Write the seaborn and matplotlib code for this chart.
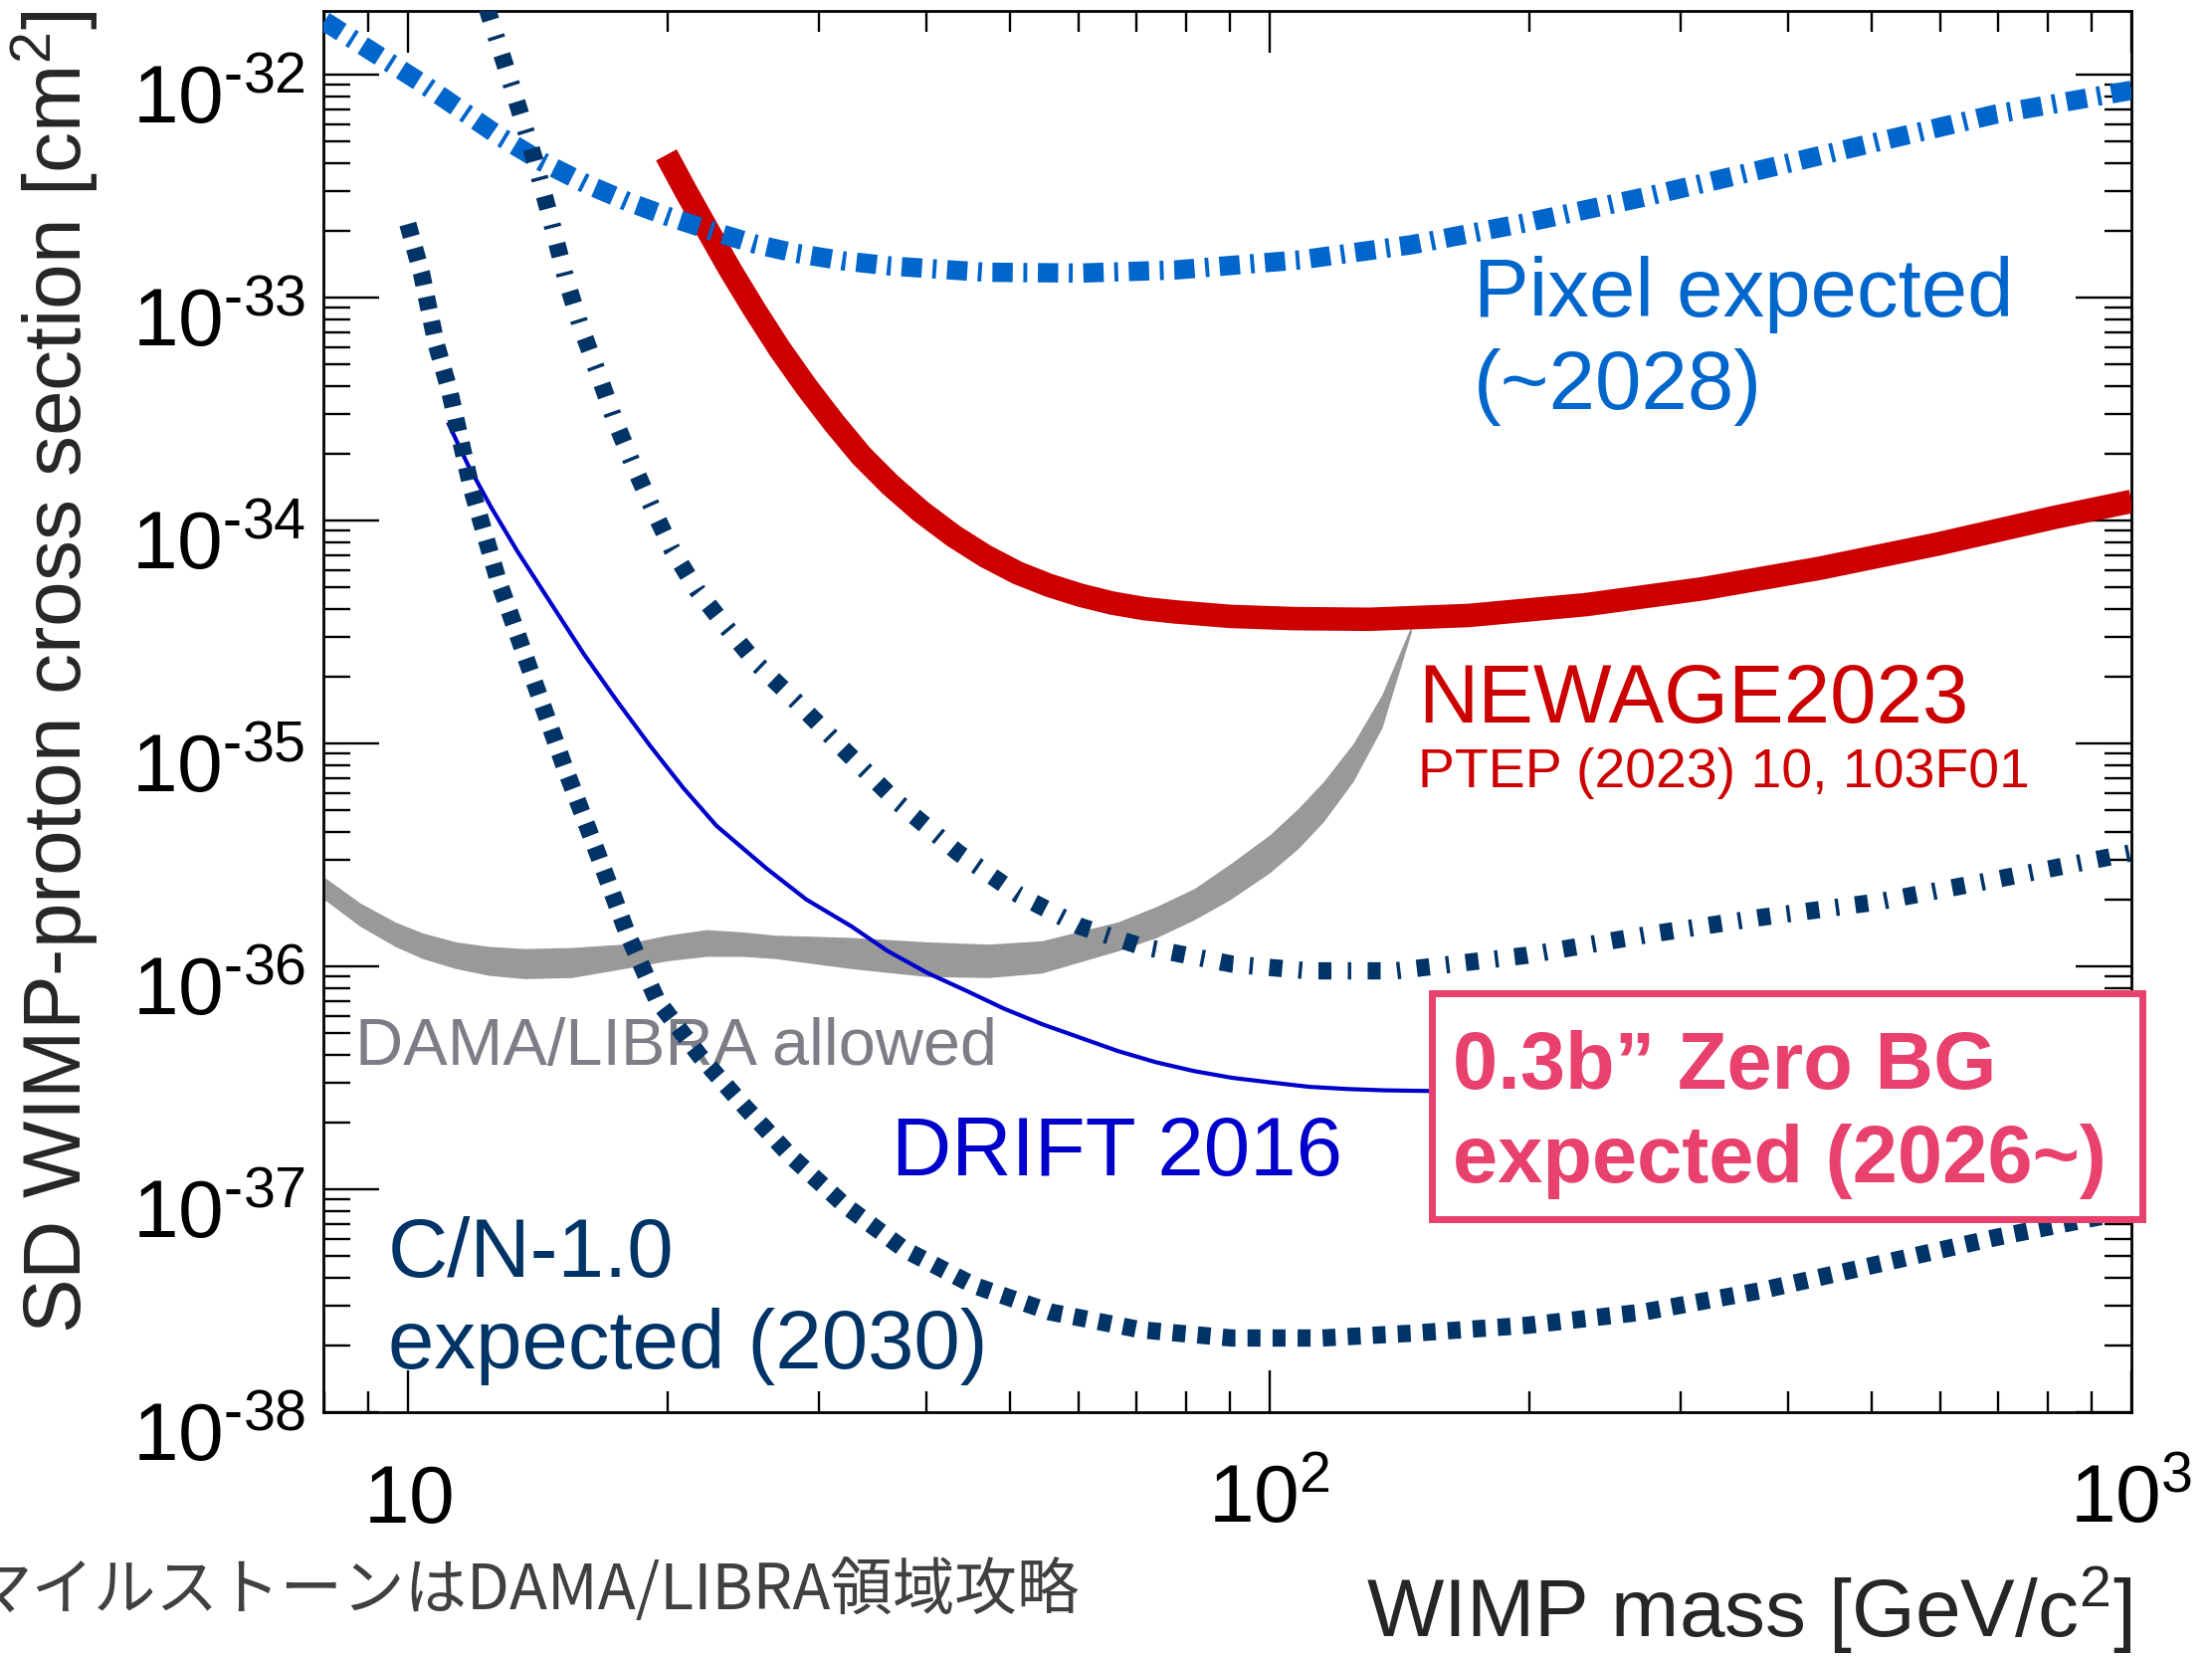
import numpy as np
import pandas as pd
import matplotlib
matplotlib.use("Agg")
import matplotlib.pyplot as plt
import matplotlib.transforms as mtransforms
from matplotlib.ticker import LogLocator, FixedLocator, NullFormatter
from matplotlib.patches import Rectangle
import seaborn as sns

# ---------------- data (WIMP mass [GeV/c^2], log10 cross section [cm^2]) ----------------
pixel_mass = [8.0, 10.4, 12.7, 14.3, 16.1, 18.0, 20.0, 22.9, 25.3, 28.1, 32.0, 36.3, 46.7, 60.3,
              77.7, 109, 146, 199, 272, 372, 509, 696, 1000]
pixel_logxs = [-31.76, -32.04, -32.27, -32.39, -32.49, -32.57, -32.635, -32.71, -32.76, -32.80,
               -32.835, -32.858, -32.886, -32.89, -32.876, -32.83, -32.763, -32.663, -32.549,
               -32.426, -32.30, -32.177, -32.07]

newage_mass = [19.95, 21.0, 22.3, 23.7, 25.3, 27.0, 29.0, 31.2, 33.6, 36.3, 39.4, 43.0, 46.8, 51.0,
               55.4, 60.3, 65.6, 71.5, 77.8, 90.0, 106.7, 130.6, 170, 233, 318, 435, 595, 814, 1000]
newage_logxs = [-32.36, -32.52, -32.70, -32.88, -33.06, -33.23, -33.40, -33.56, -33.71, -33.84,
                -33.96, -34.07, -34.16, -34.235, -34.29, -34.335, -34.37, -34.395, -34.41, -34.43,
                -34.44, -34.443, -34.426, -34.377, -34.306, -34.214, -34.106, -33.986, -33.914]

zerobg_mass = [12.35, 13.3, 14.03, 14.65, 15.24, 15.87, 16.59, 17.34, 18.21, 19.2, 20.25, 21.63,
               23.44, 25.38, 28.2, 32.1, 36.9, 43.5, 51.2, 60.2, 70.9, 90.5, 111, 140, 199, 272,
               372, 509, 696, 1000]
zerobg_logxs = [-31.70, -32.09, -32.38, -32.65, -32.91, -33.13, -33.33, -33.54, -33.74, -33.94,
                -34.13, -34.31, -34.48, -34.64, -34.81, -35.03, -35.26, -35.49, -35.68, -35.82,
                -35.91, -35.99, -36.02, -36.02, -35.95, -35.86, -35.78, -35.71, -35.61, -35.49]

cn_mass = [10.0, 10.37, 10.79, 11.18, 11.84, 12.71, 13.89, 15.18, 16.59, 17.96, 19.45, 21.8, 24.6,
           27.8, 32.1, 37.7, 45.3, 55.6, 70.8, 90.3, 115, 147, 199, 272, 372, 509, 696, 1000]
cn_logxs = [-32.67, -32.89, -33.21, -33.42, -33.85, -34.26, -34.68, -35.10, -35.49, -35.85,
            -36.15, -36.40, -36.63, -36.85, -37.07, -37.27, -37.43, -37.55, -37.63, -37.667,
            -37.667, -37.645, -37.61, -37.55, -37.454, -37.335, -37.216, -37.095]

drift_mass = [11.13, 11.74, 12.49, 13.41, 14.65, 16.01, 17.49, 19.1, 20.88, 22.82, 26.06, 29.0,
              32.7, 36.0, 40.1, 44.5, 49.2, 54.5, 60.3, 66.7, 73.8, 81.8, 90.5, 100, 111, 123,
              136, 160]
drift_logxs = [-33.56, -33.75, -33.94, -34.14, -34.37, -34.60, -34.81, -35.01, -35.20, -35.37,
               -35.56, -35.70, -35.82, -35.93, -36.03, -36.11, -36.19, -36.26, -36.32, -36.38,
               -36.43, -36.47, -36.50, -36.52, -36.54, -36.55, -36.556, -36.56]

dama_mass = [8.0, 8.8, 9.66, 10.4, 11.37, 12.4, 13.65, 15.5, 17.8, 20.0, 22.2, 24.4, 26.7, 32.7,
             40.1, 47.2, 54.4, 66.7, 74.0, 81.8, 90.0, 100, 108, 115.5, 125, 135, 146]
dama_upper = [-35.60, -35.715, -35.80, -35.85, -35.89, -35.91, -35.92, -35.915, -35.90, -35.86,
              -35.835, -35.845, -35.86, -35.87, -35.89, -35.90, -35.885, -35.80, -35.73, -35.65,
              -35.54, -35.41, -35.29, -35.17, -35.00, -34.78, -34.47]
dama_lower = [-35.70, -35.82, -35.91, -35.965, -36.01, -36.04, -36.055, -36.05, -36.01, -35.975,
              -35.955, -35.955, -35.965, -36.01, -36.046, -36.05, -36.03, -35.93, -35.87, -35.79,
              -35.70, -35.58, -35.47, -35.35, -35.17, -34.93, -34.50]

xtick_values = [10, 100, 1000]
xtick_labels = [r"$\mathregular{10}$", r"$\mathregular{10^{2}}$", r"$\mathregular{10^{3}}$"]
ytick_exponents = [-38, -37, -36, -35, -34, -33, -32]
ytick_labels = [r"$\mathregular{10^{\text{-}%d}}$" % (-e) for e in ytick_exponents]

# ---------------- style ----------------
sns.set_theme(style="ticks")
plt.rcParams["font.family"] = ["Liberation Sans", "DejaVu Sans"]
plt.rcParams["mathtext.fontset"] = "custom"
plt.rcParams["mathtext.rm"] = "Liberation Sans"
plt.rcParams["mathtext.it"] = "Liberation Sans:italic"
plt.rcParams["mathtext.bf"] = "Liberation Sans:bold"
plt.rcParams["lines.scale_dashes"] = True

fig = plt.figure(figsize=(22.23, 16.64), dpi=100)
ax = fig.add_axes([0.1462, 0.1472, 0.8174, 0.8462])
ax.set_xscale("log")
ax.set_yscale("log")
ax.set_xlim(7.98, 1000)
ax.set_ylim(1e-38, 10 ** -31.714)
ax.grid(False)


def curve(mass, logxs, color, lw, dashes=None, z=3):
    df = pd.DataFrame({"mass": mass, "xs": 10.0 ** np.asarray(logxs)})
    sns.lineplot(data=df, x="mass", y="xs", ax=ax, color=color, linewidth=lw,
                 sort=False, estimator=None, zorder=z)
    line = ax.lines[-1]
    line.set_solid_joinstyle("round")
    if dashes is not None:
        line.set_dashes(dashes)
        line.set_dash_capstyle("butt")
    else:
        line.set_solid_capstyle("butt")
    return line


# DAMA/LIBRA band
ax.fill_between(dama_mass, 10.0 ** np.asarray(dama_lower), 10.0 ** np.asarray(dama_upper),
                color="#999999", lw=0, zorder=1.5)

curve(drift_mass, drift_logxs, "#0000CC", 3.0, z=3)
curve(newage_mass, newage_logxs, "#CC0000", 17.0, z=4)
curve(pixel_mass, pixel_logxs, "#0066CC", 14.0, dashes=(1.05, 0.55, 0.2, 0.55), z=5)
curve(zerobg_mass, zerobg_logxs, "#003366", 12.5, dashes=(0.75, 0.95, 0.2, 0.95), z=6)
curve(cn_mass, cn_logxs, "#003366", 12.5, dashes=(0.75, 0.7), z=7)

ax.set_ylim(1e-38, 10 ** -31.714)
ax.set_xlim(7.98, 1000)

# ---------------- axes / ticks ----------------
for sp in ax.spines.values():
    sp.set_visible(True)
    sp.set_linewidth(2.0)
    sp.set_color("black")

ax.xaxis.set_major_locator(FixedLocator(xtick_values))
ax.set_xticklabels(xtick_labels)
ax.xaxis.set_minor_locator(LogLocator(base=10, subs=np.arange(2, 10), numticks=50))
ax.xaxis.set_minor_formatter(NullFormatter())
ax.yaxis.set_major_locator(FixedLocator([10.0 ** e for e in ytick_exponents]))
ax.set_yticklabels(ytick_labels)
ax.yaxis.set_minor_locator(LogLocator(base=10, subs=np.arange(2, 10), numticks=50))
ax.yaxis.set_minor_formatter(NullFormatter())

ax.tick_params(which="both", direction="in", top=True, right=True, width=1.7,
               color="black", labelcolor="black")
ax.tick_params(axis="x", which="major", length=30, labelsize=59, pad=80)
ax.tick_params(axis="x", which="minor", length=15)
ax.tick_params(axis="y", which="major", length=40, labelsize=59, pad=13)
ax.tick_params(axis="y", which="minor", length=19.5)

for lab in ax.get_xticklabels():
    lab.set_verticalalignment("baseline")
for lab in ax.get_yticklabels():
    lab.set_verticalalignment("baseline")
    lab.set_transform(mtransforms.offset_copy(lab.get_transform(), fig=fig, y=-49, units="dots"))

ax.set_xlabel(r"WIMP mass [GeV/c$^{2}$]", fontsize=59, ha="right", va="baseline")
ax.xaxis.set_label_coords(1.0, -0.1605)
ax.set_ylabel(r"SD WIMP-proton cross section [cm$^{2}$]", fontsize=59, ha="center", va="center")
ax.yaxis.set_label_coords(-0.148, 0.528)

# ---------------- annotations ----------------
T = ax.transAxes
ax.text(0.636, 0.782, "Pixel expected", transform=T, color="#0066CC", fontsize=60, va="baseline")
ax.text(0.636, 0.716, "(~2028)", transform=T, color="#0066CC", fontsize=60, va="baseline")
ax.text(0.6055, 0.4922, "NEWAGE2023", transform=T, color="#CC0000", fontsize=60, va="baseline")
ax.text(0.6055, 0.446, "PTEP (2023) 10, 103F01", transform=T, color="#CC0000", fontsize=40,
        va="baseline")
ax.text(0.0176, 0.248, "DAMA/LIBRA allowed", transform=T, color="#7D7D85", fontsize=48,
        va="baseline", zorder=2)
ax.text(0.314, 0.169, "DRIFT 2016", transform=T, color="#0000CC", fontsize=60, va="baseline")
ax.text(0.0358, 0.0966, "C/N-1.0", transform=T, color="#003366", fontsize=60, va="baseline")
ax.text(0.0358, 0.03125, "expected (2030)", transform=T, color="#003366", fontsize=60,
        va="baseline")

box_color = "#E8416D"
ax.add_patch(Rectangle((0.613, 0.1378), 0.393, 0.161, transform=T, facecolor="white",
                       edgecolor=box_color, linewidth=5, clip_on=False, zorder=10))
ax.text(0.6246, 0.2308, "0.3b\u201d Zero BG", transform=T, color=box_color, fontsize=58.5,
        fontweight="bold", va="baseline", zorder=11, clip_on=False)
ax.text(0.6246, 0.1641, "expected (2026~)", transform=T, color=box_color, fontsize=58.5,
        fontweight="bold", va="baseline", zorder=11, clip_on=False)

fig.text(0.488, 0.028, "マイルストーンはDAMA/LIBRA領域攻略", ha="right", va="baseline",
         fontsize=45, color="#404040", family=["Noto Sans CJK JP", "DejaVu Sans"])

fig.savefig("out.png", dpi=100)
